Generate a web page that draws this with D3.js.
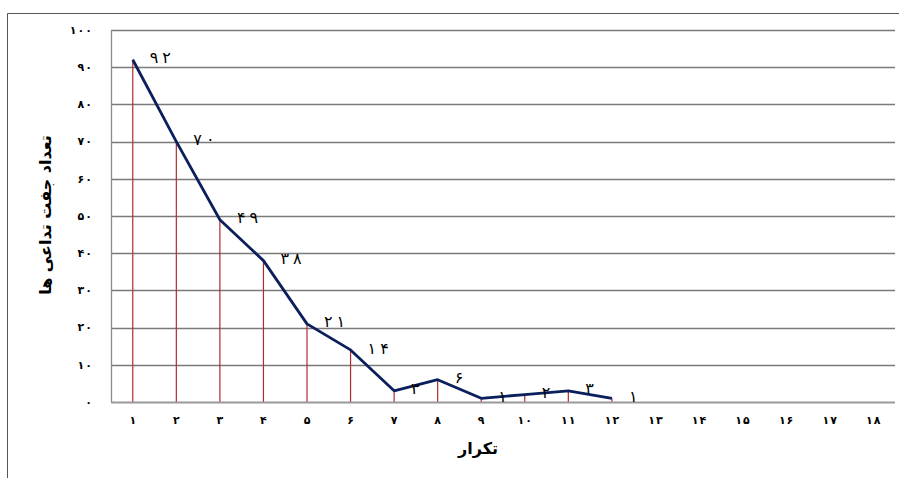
<!DOCTYPE html>
<html>
<head>
<meta charset="utf-8">
<script src="https://cdn.jsdelivr.net/npm/d3@7"></script>
<style>
  body { margin: 0; background: #fff; }
  svg { display: block; }
  text { font-family: "DejaVu Sans", Tahoma, sans-serif; }
</style>
</head>
<body>
<div id="chart"></div>
<script>
var categories = [1, 2, 3, 4, 5, 6, 7, 8, 9, 10, 11, 12, 13, 14, 15, 16, 17, 18];
var values = [92, 70, 49, 38, 21, 14, 3, 6, 1, 2, 3, 1];
var yTicks = [0, 10, 20, 30, 40, 50, 60, 70, 80, 90, 100];
var xTitle = "تکرار";
var yTitle = "تعداد جفت تداعی ها";

var fa = "۰۱۲۳۴۵۶۷۸۹";
function persian(n) {
    return String(n).replace(/[0-9]/g, function(d) { return fa[+d]; });
}

var width = 899, height = 478;
var plotLeft = 111, plotRight = 895, plotTop = 30, plotBottom = 402;

var svg = d3.select("#chart").append("svg")
    .attr("width", width)
    .attr("height", height);

// outer frame (cropped on right and bottom like the original)
svg.append("path")
    .attr("d", "M7.5," + (height + 2) + "V13.5H" + (width + 2))
    .attr("fill", "none")
    .attr("stroke", "#555")
    .attr("stroke-width", 1);

var x = d3.scaleBand()
    .domain(categories)
    .range([plotLeft, plotRight]);

var y = d3.scaleLinear()
    .domain([0, 100])
    .range([plotBottom, plotTop]);

// spaced digits, one tspan each
function spaced(sel, gap) {
    sel.each(function(d) {
        var t = d3.select(this);
        var s = persian(t.attr("data-v")).split("");
        t.selectAll("tspan").data(s).enter().append("tspan")
            .attr("dx", function(c, i) { return i ? gap : 0; })
            .text(function(c) { return c; });
    });
}

// horizontal gridlines
svg.append("g").selectAll("line")
    .data(yTicks.filter(function(d) { return d > 0; }))
    .enter().append("line")
    .attr("x1", plotLeft)
    .attr("x2", plotRight)
    .attr("y1", function(d) { return Math.round(y(d)) + 0.5; })
    .attr("y2", function(d) { return Math.round(y(d)) + 0.5; })
    .attr("stroke", "#7a7a7a")
    .attr("stroke-width", 1.3);

// y tick labels
svg.append("g").selectAll("text")
    .data(yTicks)
    .enter().append("text")
    .attr("x", 92)
    .attr("y", function(d) { return y(d); })
    .attr("dy", "0.35em")
    .attr("text-anchor", "end")
    .attr("font-size", 11)
    .attr("font-weight", "bold")
    .attr("data-v", function(d) { return d; })
    .call(spaced, 1);

// x tick labels
svg.append("g").selectAll("text")
    .data(categories)
    .enter().append("text")
    .attr("x", function(d) { return x(d) + x.bandwidth() / 2; })
    .attr("y", 420)
    .attr("dy", "0.35em")
    .attr("text-anchor", "middle")
    .attr("font-size", 11)
    .attr("font-weight", "bold")
    .attr("data-v", function(d) { return d; })
    .call(spaced, 1);

var pts = values.map(function(v, i) {
    return [x(categories[i]) + x.bandwidth() / 2, y(v), v];
});

// drop lines
svg.append("g").selectAll("line")
    .data(pts)
    .enter().append("line")
    .attr("x1", function(d) { return d[0]; })
    .attr("x2", function(d) { return d[0]; })
    .attr("y1", function(d) { return d[1]; })
    .attr("y2", plotBottom)
    .attr("stroke", "#b22a30")
    .attr("stroke-width", 1.2);

// axes lines
svg.append("line")
    .attr("x1", plotLeft + 0.5).attr("x2", plotLeft + 0.5)
    .attr("y1", plotTop).attr("y2", plotBottom)
    .attr("stroke", "#8c8c8c").attr("stroke-width", 1.3);
svg.append("line")
    .attr("x1", plotLeft).attr("x2", plotRight)
    .attr("y1", plotBottom + 0.5).attr("y2", plotBottom + 0.5)
    .attr("stroke", "#999").attr("stroke-width", 2);

// series line
svg.append("path")
    .datum(pts)
    .attr("d", d3.line())
    .attr("fill", "none")
    .attr("stroke", "#0a1f5c")
    .attr("stroke-width", 2.8)
    .attr("stroke-linejoin", "round");

// data labels
svg.append("g").selectAll("text")
    .data(pts)
    .enter().append("text")
    .attr("x", function(d) { return d[0] + 17; })
    .attr("y", function(d) { return d[1] - 2; })
    .attr("dy", "0.35em")
    .attr("font-size", 16)
    .attr("data-v", function(d) { return d[2]; })
    .call(spaced, 4);

// axis titles
svg.append("text")
    .attr("x", 478)
    .attr("y", 448)
    .attr("dy", "0.35em")
    .attr("text-anchor", "middle")
    .attr("font-size", 16)
    .attr("font-weight", "bold")
    .text(xTitle);

svg.append("text")
    .attr("transform", "translate(45,215) rotate(-90)")
    .attr("dy", "0.35em")
    .attr("text-anchor", "middle")
    .attr("font-size", 16)
    .attr("font-weight", "bold")
    .text(yTitle);
</script>
</body>
</html>
